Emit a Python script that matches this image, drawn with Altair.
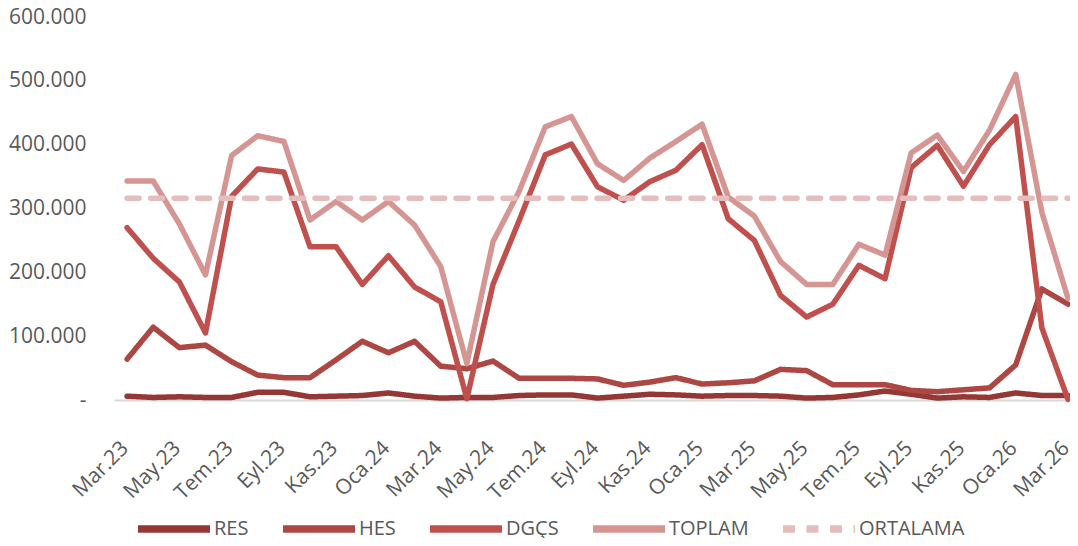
import altair as alt
import pandas as pd

months = ["Mar.23", "Nis.23", "May.23", "Haz.23", "Tem.23", "Ağu.23", "Eyl.23", "Eki.23",
          "Kas.23", "Ara.23", "Oca.24", "Şub.24", "Mar.24", "Nis.24", "May.24", "Haz.24",
          "Tem.24", "Ağu.24", "Eyl.24", "Eki.24", "Kas.24", "Ara.24", "Oca.25", "Şub.25",
          "Mar.25", "Nis.25", "May.25", "Haz.25", "Tem.25", "Ağu.25", "Eyl.25", "Eki.25",
          "Kas.25", "Ara.25", "Oca.26", "Şub.26", "Mar.26"]

res = [6000, 4000, 5000, 4000, 4000, 12000, 12000, 5000, 6000, 7000, 11000, 6000, 3000,
       4000, 4000, 7000, 8000, 8000, 3000, 6000, 9000, 8000, 6000, 7000, 7000, 6000, 3000,
       4000, 8000, 14000, 9000, 3000, 5000, 4000, 11000, 7000, 7000]

hes = [64000, 114000, 82000, 86000, 60000, 39000, 35000, 35000, 63000, 92000, 74000, 92000,
       53000, 49000, 61000, 34000, 34000, 34000, 33000, 23000, 28000, 35000, 25000, 27000,
       30000, 48000, 46000, 24000, 24000, 24000, 15000, 13000, 16000, 19000, 55000, 174000,
       150000]

dgcs = [270000, 222000, 185000, 105000, 319000, 362000, 357000, 240000, 240000, 181000,
        226000, 177000, 154000, 2000, 181000, 281000, 384000, 401000, 334000, 313000, 342000,
        360000, 400000, 284000, 250000, 164000, 130000, 150000, 211000, 190000, 364000,
        399000, 335000, 400000, 444000, 113000, 1000]

toplam = [343000, 343000, 276000, 196000, 383000, 414000, 405000, 282000, 311000, 282000,
          311000, 274000, 209000, 57000, 248000, 327000, 428000, 444000, 370000, 344000,
          379000, 405000, 432000, 318000, 288000, 217000, 181000, 181000, 244000, 227000,
          387000, 415000, 358000, 423000, 510000, 294000, 159000]

ortalama_value = 316000

series_names = ["RES", "HES", "DGÇS", "TOPLAM", "ORTALAMA"]
series_colors = ["#953735", "#AD4744", "#C0504D", "#D49593", "#E4BDBC"]
series_dash = [[1, 0], [1, 0], [1, 0], [1, 0], [12, 11.5]]

rows = []
values_by_series = {
    "RES": res,
    "HES": hes,
    "DGÇS": dgcs,
    "TOPLAM": toplam,
    "ORTALAMA": [ortalama_value] * len(months),
}
for name in series_names:
    for i, m in enumerate(months):
        rows.append({"idx": i, "month": m, "series": name, "value": values_by_series[name][i]})
df = pd.DataFrame(rows)

label_array = "[" + ",".join("'" + m + "'" for m in months) + "]"

font = "Open Sans"
text_color = "#595959"
fs = 21

x_enc = alt.X(
    "idx:Q",
    scale=alt.Scale(domain=[-0.5, 36], nice=False, zero=False),
    axis=alt.Axis(
        values=list(range(0, 37, 2)),
        labelExpr=label_array + "[datum.value]",
        labelAngle=-45,
        labelAlign="right",
        labelBaseline="top",
        labelPadding=37,
        labelOffset=-10,
        labelFontSize=fs,
        labelFont=font,
        labelColor=text_color,
        ticks=False,
        grid=False,
        domainColor="#D9D9D9",
        domainWidth=2,
        title=None,
        labelOverlap=False,
        labelBound=False,
    ),
)

y_enc = alt.Y(
    "value:Q",
    scale=alt.Scale(domain=[0, 600000], nice=False),
    axis=alt.Axis(
        values=[0, 100000, 200000, 300000, 400000, 500000, 600000],
        labelExpr="datum.value == 0 ? '-\u00a0\u00a0' : replace(format(datum.value, ','), ',', '.')",
        labelPadding=28,
        labelFontSize=fs,
        labelFont=font,
        labelColor=text_color,
        ticks=False,
        grid=False,
        domain=False,
        title=None,
    ),
)

legend_cfg = dict(
    title=None,
    orient="none",
    legendX=20,
    legendY=472,
    direction="horizontal",
    columns=5,
    gridAlign="none",
    symbolType="stroke",
    symbolSize=5184,
    symbolStrokeWidth=7.5,
    labelFontSize=20,
    labelFont=font,
    labelColor=text_color,
    labelOffset=0,
    columnPadding=19,
)

color_enc = alt.Color(
    "series:N",
    scale=alt.Scale(domain=series_names, range=series_colors),
    legend=alt.Legend(**legend_cfg),
)
dash_enc = alt.StrokeDash(
    "series:N",
    scale=alt.Scale(domain=series_names, range=series_dash),
    legend=alt.Legend(**legend_cfg),
)

layers = []
for name in series_names:
    layers.append(
        alt.Chart(df)
        .transform_filter(alt.datum.series == name)
        .mark_line(strokeWidth=5.5, strokeCap="round", strokeJoin="round")
        .encode(x=x_enc, y=y_enc, color=color_enc, strokeDash=dash_enc)
    )

chart = (
    alt.layer(*layers)
    .properties(
        width=954,
        height=383,
        autosize=alt.AutoSizeParams(type="none"),
        padding={"left": 106, "top": 9, "right": 2, "bottom": 138},
    )
    .configure_view(strokeWidth=0, strokeOpacity=0)
)

chart.save("out.html", embed_options={"renderer": "svg", "actions": False})
